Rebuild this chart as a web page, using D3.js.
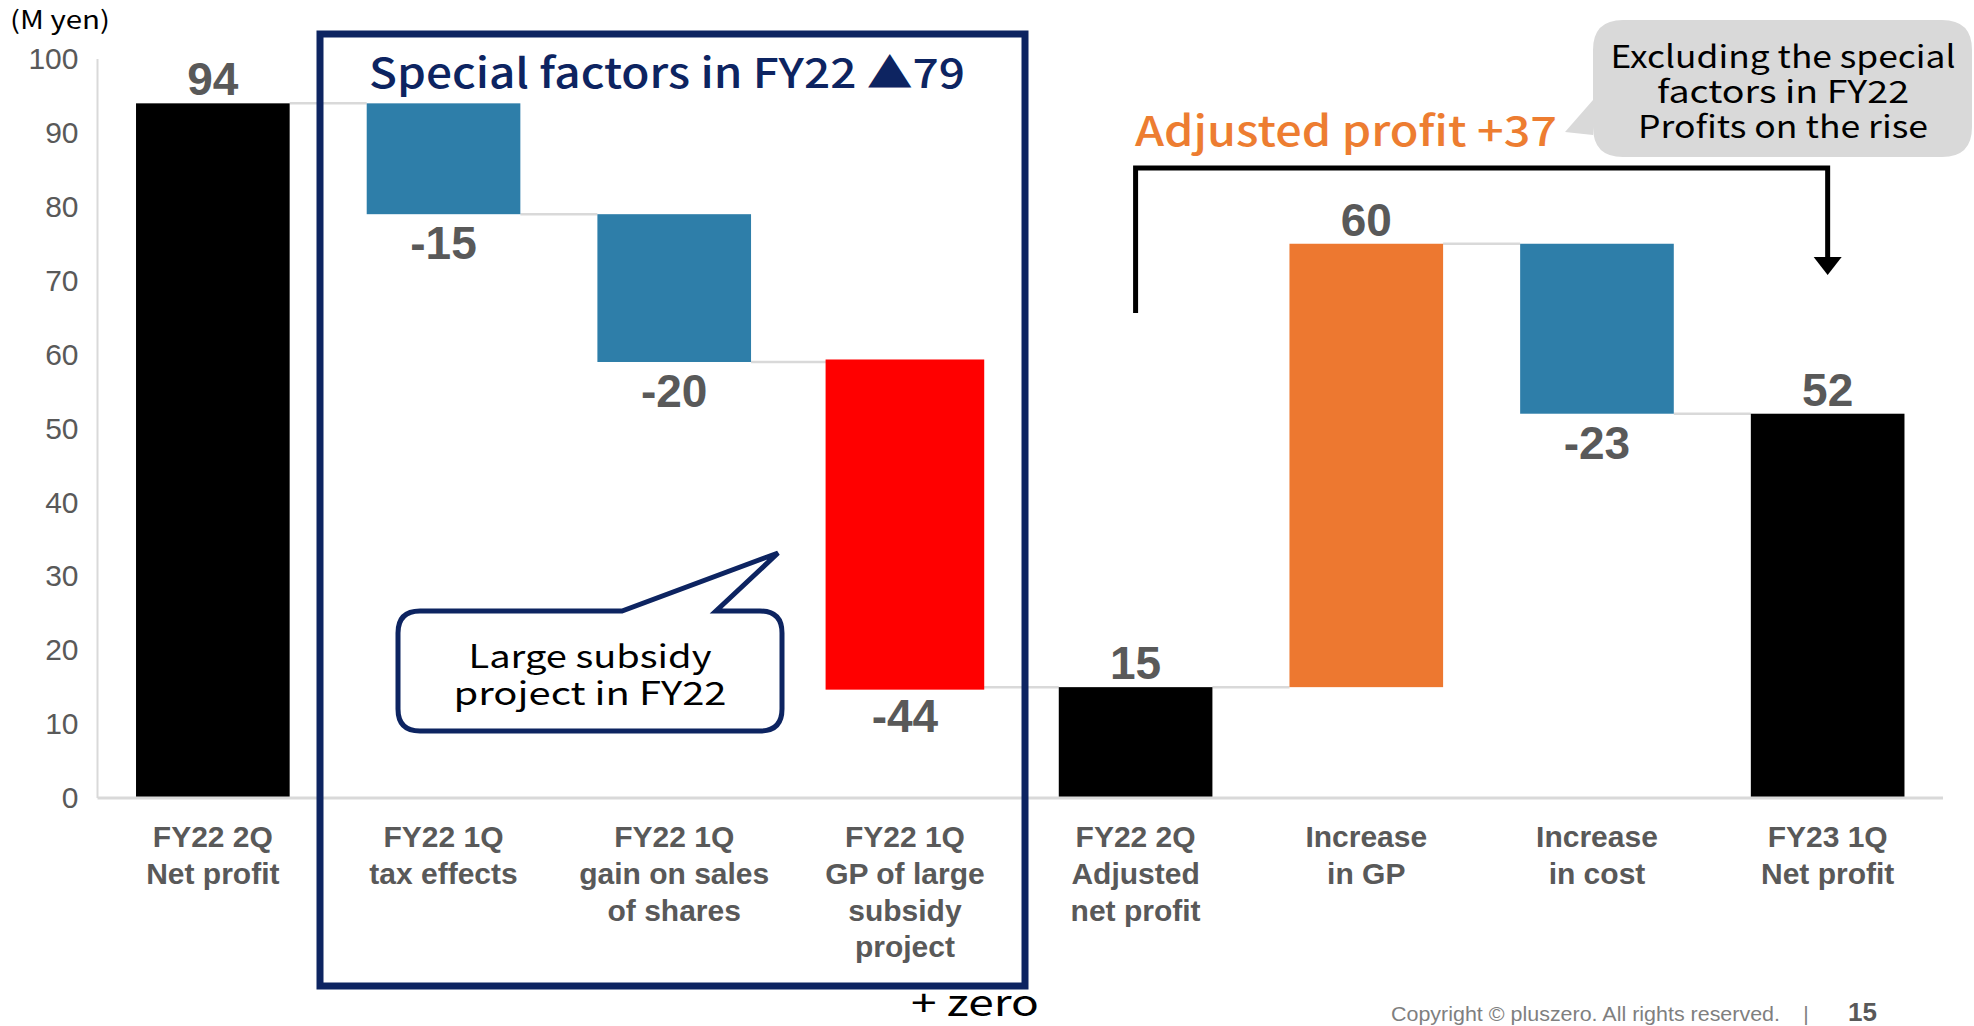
<!DOCTYPE html>
<html>
<head>
<meta charset="utf-8">
<script src="https://cdn.jsdelivr.net/npm/d3@7"></script>
<style>
  html, body { margin: 0; padding: 0; background: #fff; }
  svg { display: block; }
</style>
</head>
<body>
<svg id="chart" width="1974" height="1026"></svg>
<script>
// ---------------- DATA ----------------
const categories = [
  ["FY22 2Q", "Net profit"],
  ["FY22 1Q", "tax effects"],
  ["FY22 1Q", "gain on sales", "of shares"],
  ["FY22 1Q", "GP of large", "subsidy", "project"],
  ["FY22 2Q", "Adjusted", "net profit"],
  ["Increase", "in GP"],
  ["Increase", "in cost"],
  ["FY23 1Q", "Net profit"]
];
const values = [94, -15, -20, -44, 15, 60, -23, 52];
const barKinds = ["total", "delta", "delta", "delta", "total", "delta", "delta", "total"];
const yTicks = [0, 10, 20, 30, 40, 50, 60, 70, 80, 90, 100];
const unitLabel = "(M yen)";
const specialTitle = "Special factors in FY22 \u25B279";
const adjustedTitle = "Adjusted profit +37";
const greyNote = ["Excluding the special", "factors in FY22", "Profits on the rise"];
const subsidyNote = ["Large subsidy", "project in FY22"];
const plusZero = "+ zero";
const copyright = "Copyright \u00A9 pluszero. All rights reserved.";
const pageNo = "15";

// ---------------- STYLE ----------------
const fills = ["#000000", "#2E7EA9", "#2E7EA9", "#FF0000", "#000000", "#ED7830", "#2E7EA9", "#000000"];
const outlines = [0, 0, 0, 5, 0, 0, 0, 0];
const navy = "#0D2461";
const gridGrey = "#D9D9D9";
const textGrey = "#595959";
const latin = "'Liberation Sans', Arial, sans-serif";
const jp = "'Noto Sans CJK JP', 'Noto Sans', sans-serif";

// ---------------- BUILD ----------------
let running = 0;
const bars = values.map((v, i) => {
  let start, end;
  if (barKinds[i] === "total") { start = 0; end = v; }
  else { start = running; end = running + v; }
  running = end;
  return { i, v, start, end, kind: barKinds[i], key: "c" + i };
});

const svg = d3.select("#chart");

const x = d3.scaleBand()
  .domain(bars.map(d => d.key))
  .range([97.5, 1943])
  .paddingInner(0.334)
  .paddingOuter(0.167);

const y = d3.scaleLinear().domain([0, 100]).range([798, 59]);

// y axis line
svg.append("line")
  .attr("x1", x.range()[0]).attr("x2", x.range()[0])
  .attr("y1", y(100)).attr("y2", y(0))
  .attr("stroke", gridGrey).attr("stroke-width", 2);

// y tick labels via d3 axis
const yAxis = svg.append("g")
  .attr("transform", `translate(${x.range()[0]},0)`)
  .call(d3.axisLeft(y).tickValues(yTicks).tickSize(0).tickPadding(19));
yAxis.select(".domain").remove();
yAxis.selectAll("text")
  .attr("font-family", latin)
  .attr("font-size", 30)
  .attr("fill", textGrey);

// connectors
svg.append("g").selectAll("line")
  .data(bars.slice(0, -1))
  .join("line")
  .attr("x1", d => x(d.key) + x.bandwidth())
  .attr("x2", d => x(bars[d.i + 1].key))
  .attr("y1", d => y(d.end))
  .attr("y2", d => y(d.end))
  .attr("stroke", gridGrey)
  .attr("stroke-width", 2.5);

// bars
svg.append("g").selectAll("rect")
  .data(bars)
  .join("rect")
  .attr("x", d => x(d.key))
  .attr("width", x.bandwidth())
  .attr("y", d => y(Math.max(d.start, d.end)))
  .attr("height", d => Math.abs(y(d.start) - y(d.end)))
  .attr("fill", (d, i) => fills[i])
  .attr("stroke", (d, i) => outlines[i] ? fills[i] : "none")
  .attr("stroke-width", (d, i) => outlines[i]);

// baseline
svg.append("line")
  .attr("x1", x.range()[0]).attr("x2", x.range()[1])
  .attr("y1", y(0)).attr("y2", y(0))
  .attr("stroke", gridGrey).attr("stroke-width", 3);

// value labels
svg.append("g").selectAll("text")
  .data(bars)
  .join("text")
  .attr("x", d => x(d.key) + x.bandwidth() / 2)
  .attr("y", d => d.v >= 0 ? y(Math.max(d.start, d.end)) - 8 : y(Math.min(d.start, d.end)) + 45)
  .attr("text-anchor", "middle")
  .attr("font-family", latin)
  .attr("font-weight", "bold")
  .attr("font-size", 46)
  .attr("fill", textGrey)
  .text(d => d.v);

// category labels
const catG = svg.append("g").selectAll("text")
  .data(bars)
  .join("text")
  .attr("text-anchor", "middle")
  .attr("font-family", latin)
  .attr("font-weight", "bold")
  .attr("font-size", 30)
  .attr("fill", textGrey);
catG.each(function(d) {
  const t = d3.select(this);
  categories[d.i].forEach((line, k) => {
    t.append("tspan")
      .attr("x", x(d.key) + x.bandwidth() / 2)
      .attr("y", 847 + k * 36.8)
      .text(line);
  });
});

// unit label
svg.append("text")
  .attr("x", 10).attr("y", 29)
  .attr("font-family", jp).attr("font-size", 25).attr("fill", "#000")
  .attr("textLength", 100).attr("lengthAdjust", "spacingAndGlyphs")
  .text(unitLabel);

// navy box
svg.append("rect")
  .attr("x", 320).attr("y", 34)
  .attr("width", 705).attr("height", 952)
  .attr("fill", "none").attr("stroke", navy).attr("stroke-width", 7);

svg.append("text")
  .attr("x", 369).attr("y", 88)
  .attr("font-family", jp).attr("font-size", 41).attr("font-weight", 500)
  .attr("fill", navy)
  .attr("textLength", 596).attr("lengthAdjust", "spacingAndGlyphs")
  .text(specialTitle);

// subsidy callout
const cx0 = 398, cx1 = 782, cy0 = 611, cy1 = 731, r = 22;
const callout = d3.path();
callout.moveTo(cx0 + r, cy0);
callout.lineTo(622, cy0);
callout.lineTo(778, 553);
callout.lineTo(716, cy0);
callout.lineTo(cx1 - r, cy0);
callout.quadraticCurveTo(cx1, cy0, cx1, cy0 + r);
callout.lineTo(cx1, cy1 - r);
callout.quadraticCurveTo(cx1, cy1, cx1 - r, cy1);
callout.lineTo(cx0 + r, cy1);
callout.quadraticCurveTo(cx0, cy1, cx0, cy1 - r);
callout.lineTo(cx0, cy0 + r);
callout.quadraticCurveTo(cx0, cy0, cx0 + r, cy0);
callout.closePath();
svg.append("path")
  .attr("d", callout.toString())
  .attr("fill", "#fff").attr("stroke", navy).attr("stroke-width", 5)
  .attr("stroke-linejoin", "miter");
const subsidyLen = [243, 273];
subsidyNote.forEach((s, k) => {
  svg.append("text")
    .attr("x", 590).attr("y", 668 + k * 37)
    .attr("text-anchor", "middle")
    .attr("font-family", jp).attr("font-size", 32).attr("fill", "#000")
    .attr("textLength", subsidyLen[k]).attr("lengthAdjust", "spacingAndGlyphs")
    .text(s);
});

// + zero
svg.append("text")
  .attr("x", 911).attr("y", 1016)
  .attr("font-family", jp).attr("font-size", 36).attr("fill", "#000")
  .attr("textLength", 128).attr("lengthAdjust", "spacingAndGlyphs")
  .text(plusZero);

// grey callout
const g0x = 1593, g1x = 1972, g0y = 20, g1y = 157, gr = 30;
const grey = d3.path();
grey.moveTo(g0x + gr, g0y);
grey.lineTo(g1x - gr, g0y);
grey.quadraticCurveTo(g1x, g0y, g1x, g0y + gr);
grey.lineTo(g1x, g1y - gr);
grey.quadraticCurveTo(g1x, g1y, g1x - gr, g1y);
grey.lineTo(g0x + gr, g1y);
grey.quadraticCurveTo(g0x, g1y, g0x, g1y - gr);
grey.lineTo(g0x, 135);
grey.lineTo(1565, 132);
grey.lineTo(g0x, 100);
grey.lineTo(g0x, g0y + gr);
grey.quadraticCurveTo(g0x, g0y, g0x + gr, g0y);
grey.closePath();
svg.append("path").attr("d", grey.toString()).attr("fill", "#D9D9D9");
const greyLen = [345, 252, 290];
greyNote.forEach((s, k) => {
  svg.append("text")
    .attr("x", 1783).attr("y", 68 + k * 35)
    .attr("text-anchor", "middle")
    .attr("font-family", jp).attr("font-size", 31).attr("fill", "#000")
    .attr("textLength", greyLen[k]).attr("lengthAdjust", "spacingAndGlyphs")
    .text(s);
});

// adjusted profit
svg.append("text")
  .attr("x", 1135).attr("y", 146)
  .attr("font-family", jp).attr("font-size", 41).attr("font-weight", 500)
  .attr("fill", "#ED7D31")
  .attr("textLength", 422).attr("lengthAdjust", "spacingAndGlyphs")
  .text(adjustedTitle);

// bracket arrow (from adjusted bar to final bar)
const bx0 = x(bars[4].key) + x.bandwidth() / 2;
const bx1 = x(bars[7].key) + x.bandwidth() / 2;
svg.append("path")
  .attr("d", `M${bx0},313 L${bx0},168 L${bx1},168 L${bx1},258`)
  .attr("fill", "none").attr("stroke", "#000").attr("stroke-width", 5);
svg.append("path")
  .attr("d", `M${bx1 - 14},257 L${bx1 + 14},257 L${bx1},275 Z`)
  .attr("fill", "#000");

// footer
svg.append("text")
  .attr("x", 1391).attr("y", 1021)
  .attr("font-family", latin).attr("font-size", 21).attr("fill", "#7F7F7F")
  .attr("textLength", 389).attr("lengthAdjust", "spacingAndGlyphs")
  .text(copyright);
svg.append("text")
  .attr("x", 1806).attr("y", 1021).attr("text-anchor", "middle")
  .attr("font-family", latin).attr("font-size", 21).attr("fill", "#7F7F7F")
  .text("|");
svg.append("text")
  .attr("x", 1848).attr("y", 1021)
  .attr("font-family", latin).attr("font-weight", "bold").attr("font-size", 26).attr("fill", "#595959")
  .text(pageNo);
</script>
</body>
</html>
